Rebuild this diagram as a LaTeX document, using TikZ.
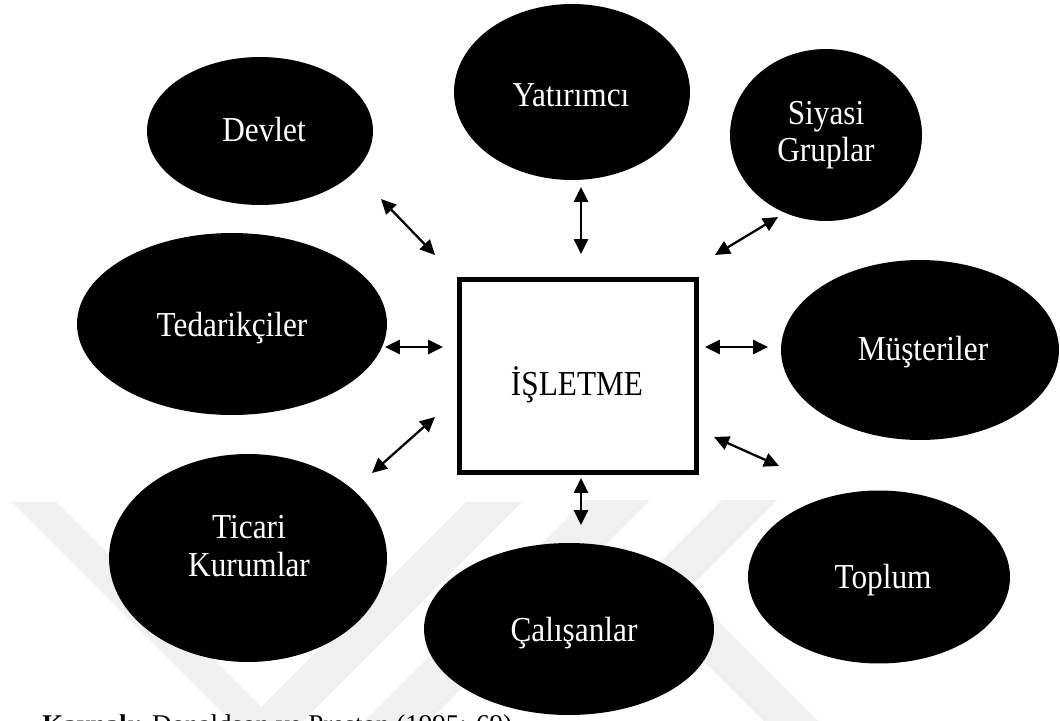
\documentclass[tikz,border=0pt]{standalone}
\usepackage{graphicx}
\usepackage{fontspec}
\setmainfont{Liberation Serif}
\usetikzlibrary{arrows.meta,shapes.geometric}
% labels are set slightly taller than wide
\newcommand{\tall}[1]{\scalebox{1}[1.12]{#1}}

\begin{document}
\begin{tikzpicture}[x=0.02cm,y=-0.02cm,
  blob/.style={ellipse, fill=black, draw=none, inner sep=0pt, outer sep=0pt},
  lbl/.style={text=white, align=center, inner sep=0pt,
              font=\fontsize{17.8}{21.3}\selectfont},
  tip/.tip={Triangle[length=8.5pt,width=8pt]},
  link/.style={tip-tip, line width=1.3pt},
  firm/.style={draw=black, line width=2.85pt, fill=white, inner sep=0pt,
               minimum width=4.73cm, minimum height=3.87cm},
  wm/.style={fill=black!6, draw=none}]

\useasboundingbox (0,0) rectangle (1060,720);
\clip (0,0) rectangle (1060,720);

% faint background emblem
\fill[wm] (12,502) -- (57,502) -- (261.5,706.5) -- (466,502) -- (522,502) -- (267,757) -- cycle;
\fill[wm] (585,500) -- (650,500) -- (390,760) -- (325,760) -- cycle;
\fill[wm] (722,500) -- (632.25,589.75) -- (802.5,760) -- (857.5,760)
          -- (687.25,589.75) -- (777,500) -- cycle;

% central firm
\node[firm] (firm) at (578,376) {};
\node[font=\fontsize{17.8}{21.3}\selectfont, inner sep=0pt] (firmT) at (577,385) {\tall{İŞLETME}};

% stakeholders
\node[blob, minimum width=4.52cm, minimum height=2.96cm] (devlet) at (260,131) {};
\node[lbl] (devletT) at (264,130) {\tall{Devlet}};

\node[blob, minimum width=4.72cm, minimum height=3.52cm] (yatirimci) at (572,92) {};
\node[lbl] (yatirimciT) at (571,95) {\tall{Yatırımcı}};

\node[blob, minimum width=3.84cm, minimum height=3.44cm] (siyasi) at (826,135) {};
\node[lbl] (siyasiT) at (826,135) {\tall{Siyasi}\\\tall{Gruplar}};

\node[blob, minimum width=6.2cm, minimum height=3.64cm] (tedarik) at (232,324) {};
\node[lbl] (tedarikT) at (232,328) {\tall{Tedarikçiler}};

\node[blob, minimum width=5.56cm, minimum height=3.6cm] (musteri) at (920,350) {};
\node[lbl] (musteriT) at (923,352) {\tall{Müşteriler}};

\node[blob, minimum width=5.56cm, minimum height=4.16cm] (ticari) at (248,558) {};
\node[lbl] (ticariT) at (249,546) {\tall{Ticari}\\\tall{Kurumlar}};

\node[blob, minimum width=5.8cm, minimum height=3.44cm] (calisan) at (569,629) {};
\node[lbl] (calisanT) at (574,633) {\tall{Çalışanlar}};

\node[blob, minimum width=5.24cm, minimum height=3.46cm] (toplum) at (879,577) {};
\node[lbl] (toplumT) at (883,580) {\tall{Toplum}};

% two-way links between the firm and each group
\coordinate (d1) at (381,199); \coordinate (d2) at (435,255);
\coordinate (y1) at (581,187); \coordinate (y2) at (581,254);
\coordinate (s1) at (778,217); \coordinate (s2) at (715,255);
\coordinate (t1) at (385,347); \coordinate (t2) at (443,347);
\coordinate (m1) at (705,347); \coordinate (m2) at (768,347);
\coordinate (k1) at (435,417); \coordinate (k2) at (372,473);
\coordinate (p1) at (714,437); \coordinate (p2) at (779,466);
\coordinate (c1) at (581,478); \coordinate (c2) at (581,525);

\draw[link] (d1) -- (d2);
\draw[link] (y1) -- (y2);
\draw[link] (s1) -- (s2);
\draw[link] (t1) -- (t2);
\draw[link] (m1) -- (m2);
\draw[link] (k1) -- (k2);
\draw[link] (p1) -- (p2);
\draw[link] (c1) -- (c2);

% source line
\node[anchor=base west, inner sep=0pt, font=\fontsize{15.4}{18}\selectfont] (source) at (42,733)
  {\textbf{Kaynak:} Donaldson ve Preston (1995: 69)};
\end{tikzpicture}
\end{document}
